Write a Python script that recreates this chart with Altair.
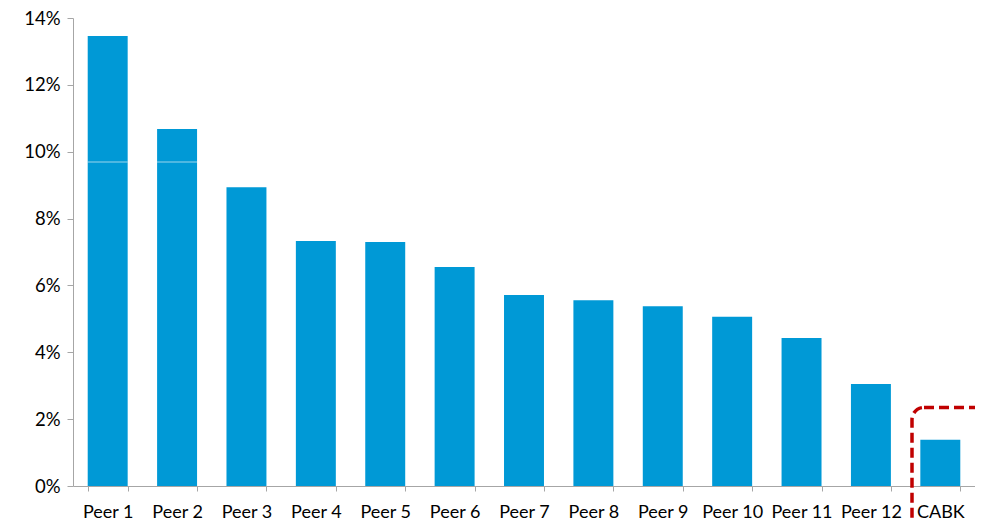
import altair as alt
import pandas as pd

categories = ["Peer 1", "Peer 2", "Peer 3", "Peer 4", "Peer 5", "Peer 6", "Peer 7",
              "Peer 8", "Peer 9", "Peer 10", "Peer 11", "Peer 12", "CABK"]
values = [0.1346, 0.1068, 0.0894, 0.0733, 0.0730, 0.0655, 0.0571,
          0.0556, 0.0538, 0.0506, 0.0443, 0.0305, 0.0138]
line_cats = ["Peer 1", "Peer 2"]
line_vals = [0.0969, 0.0969]
highlight_top = [0.0235]

df = pd.DataFrame({"cat": categories, "val": values})
lines = pd.DataFrame({"cat": line_cats, "val": line_vals})
hl = pd.DataFrame({"top": highlight_top})

FONT = "Lato"
x_scale = alt.Scale(domain=categories, paddingInner=0.424, paddingOuter=0.212)
y_scale = alt.Scale(domain=[0, 0.14])

bars = alt.Chart(df).mark_bar(color="#0099D6").encode(
    x=alt.X("cat:N", sort=categories, scale=x_scale,
            axis=alt.Axis(title=None, labelAngle=0, tickBand="extent", labelPadding=12,
                          tickSize=5, domainColor="#A6A6A6", tickColor="#A6A6A6",
                          labelColor="#000000", labelFontSize=18, labelFont=FONT)),
    y=alt.Y("val:Q", scale=y_scale,
            axis=alt.Axis(title=None, format=".0%", values=[0, 0.02, 0.04, 0.06, 0.08, 0.10, 0.12, 0.14],
                          grid=False, tickSize=6, labelPadding=7, domainColor="#A6A6A6",
                          tickColor="#A6A6A6", labelColor="#000000", labelFontSize=18.5,
                          labelFont=FONT)),
)

ticks = alt.Chart(lines).mark_tick(color="#DDEFF8", size=40, thickness=1).encode(
    x=alt.X("cat:N", sort=categories, scale=x_scale),
    y=alt.Y("val:Q", scale=y_scale),
)

box = alt.Chart(hl).mark_rect(
    fill="transparent", stroke="#C00000", strokeWidth=3.5, strokeDash=[10, 5], cornerRadius=12,
    clip=False,
).encode(
    y=alt.Y("top:Q", scale=y_scale),
    y2=alt.value(560),
    x=alt.value(839),
    x2=alt.value(985),
)

chart = alt.layer(bars, ticks, box).properties(
    width=902, height=468,
    padding={"left": 65, "top": 10, "right": 0, "bottom": 34},
    autosize=alt.AutoSizeParams(type="none"),
).configure(font=FONT).configure_view(stroke="transparent", strokeWidth=0)

chart.save("out.html", embed_options={"renderer": "svg", "actions": False})
